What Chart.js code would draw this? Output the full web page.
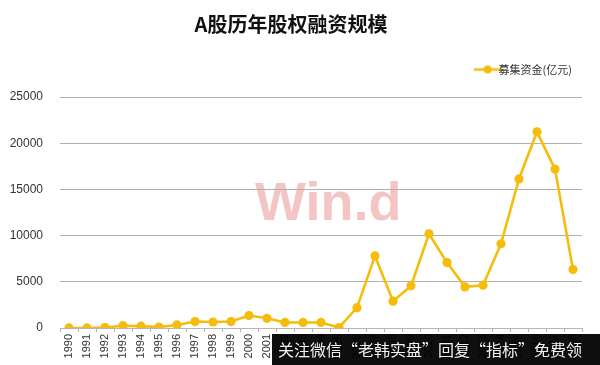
<!DOCTYPE html>
<html>
<head>
<meta charset="utf-8">
<script src="https://cdn.jsdelivr.net/npm/chart.js@4/dist/chart.umd.min.js"></script>
<style>
  html, body { margin: 0; padding: 0; background: #fff; }
  #wrap { position: relative; width: 600px; height: 365px; overflow: hidden; }
  #wm { position: absolute; left: 255px; top: 170px; font: bold 54px "Liberation Sans", Arial, sans-serif;
        color: rgba(228, 110, 110, 0.40); letter-spacing: 0px; z-index: 0; }
  canvas { position: absolute; left: 0; top: 0; z-index: 1; }
  #banner { position: absolute; left: 272px; top: 334px; width: 340px; height: 31px; background: rgba(0,0,0,0.94);
            color: #f2f2f2; font: 16px "Noto Sans CJK SC", sans-serif; line-height: 31px; padding-left: 6px;
            white-space: nowrap; z-index: 2; }
</style>
</head>
<body>
<div id="wrap">
  <div id="wm">Win.d</div>
  <canvas id="c" width="600" height="365"></canvas>
  <div id="banner">关注微信“老韩实盘”回复“指标”免费领</div>
</div>
<script>
const years = ['1990','1991','1992','1993','1994','1995','1996','1997','1998','1999',
               '2000','2001','2002','2003','2004','2005','2006','2007','2008','2009',
               '2010','2011','2012','2013','2014','2015','2016','2017','2018'];
const funds = [5, 5, 50, 250, 200, 100, 330, 700, 650, 700,
               1350, 1050, 600, 600, 600, 50, 2200, 7800, 2900, 4560,
               10200, 7080, 4450, 4630, 9120, 16130, 21230, 17200, 6320];
const yTicks = [0, 5000, 10000, 15000, 20000, 25000];
const seriesName = '募集资金(亿元)';
const titleText = 'A股历年股权融资规模';

const lineColor = '#F6BC0C';

// legend marker: line with dot
const mk = document.createElement('canvas');
mk.width = 28; mk.height = 10;
const g = mk.getContext('2d');
g.strokeStyle = lineColor; g.lineWidth = 2.5;
g.beginPath(); g.moveTo(0, 5); g.lineTo(28, 5); g.stroke();
g.fillStyle = lineColor; g.beginPath(); g.arc(14, 5, 4, 0, Math.PI * 2); g.fill();

const legendSpacer = {
  id: 'legendSpacer',
  beforeInit(chart) {
    const origFit = chart.legend.fit;
    chart.legend.fit = function () {
      origFit.bind(chart.legend)();
      this.height += 12;
    };
  }
};

new Chart(document.getElementById('c'), {
  type: 'line',
  data: {
    labels: years,
    datasets: [{
      label: seriesName,
      data: funds,
      borderColor: lineColor,
      backgroundColor: lineColor,
      borderWidth: 2.6,
      pointRadius: 4.6,
      pointBackgroundColor: lineColor,
      pointBorderWidth: 0,
      tension: 0
    }]
  },
  plugins: [legendSpacer],
  options: {
    responsive: false,
    animation: false,
    layout: { padding: { left: 0, right: 18, top: 0, bottom: 0 } },
    plugins: {
      title: {
        display: true,
        text: titleText,
        color: '#111',
        font: { family: '"Noto Sans CJK SC", sans-serif', size: 20, weight: 'bold' },
        padding: { top: 12, bottom: 18 }
      },
      legend: {
        display: true,
        align: 'end',
        labels: {
          usePointStyle: true,
          pointStyle: mk,
          color: '#333',
          font: { family: '"Noto Sans CJK SC", sans-serif', size: 11 },
          padding: 10
        }
      },
      tooltip: { enabled: false }
    },
    scales: {
      x: {
        offset: true,
        grid: { drawOnChartArea: false, drawTicks: true, tickLength: 4, color: '#b5b5b5', offset: true },
        border: { color: '#b5b5b5', width: 1 },
        ticks: {
          minRotation: 90, maxRotation: 90, autoSkip: false,
          color: '#333', padding: 2,
          font: { family: '"Liberation Sans", Arial, sans-serif', size: 11 }
        },
        afterFit: s => { s.height = 37; }
      },
      y: {
        min: 0, max: 25000,
        afterBuildTicks: s => { s.ticks = yTicks.map(v => ({ value: v })); },
        grid: { color: '#b0b0b0', drawTicks: false, lineWidth: 1 },
        border: { display: false },
        ticks: {
          color: '#333', padding: 17,
          callback: v => String(v),
          font: { family: '"Liberation Sans", Arial, sans-serif', size: 12 }
        },
        afterFit: s => { s.width = 60; }
      }
    }
  }
});
</script>
</body>
</html>
